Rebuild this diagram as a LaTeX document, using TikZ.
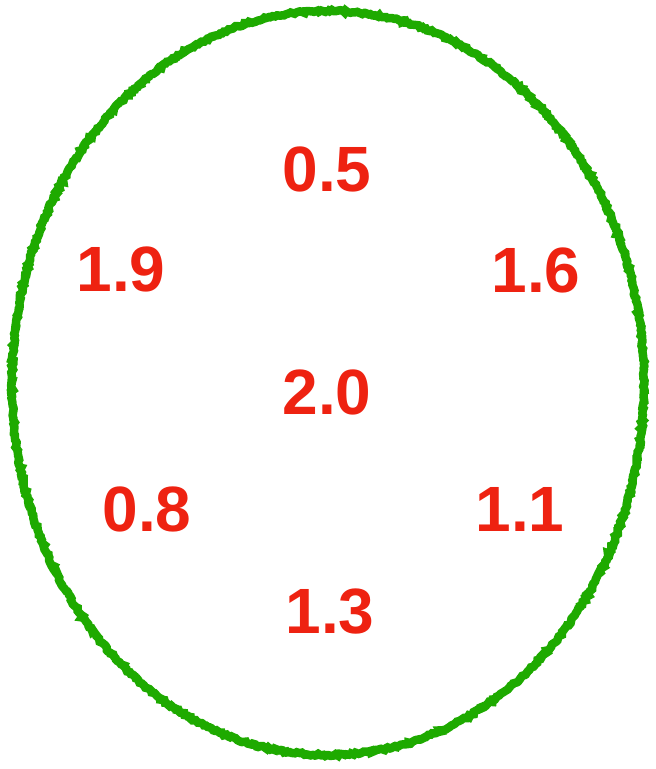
\documentclass[tikz,border=0pt]{standalone}
\usepackage{fontspec}
\setmainfont{Liberation Sans}
\usepackage{tikz}
\usetikzlibrary{decorations.pathmorphing}
\definecolor{ringgreen}{RGB}{30, 170, 0}
\definecolor{numred}{RGB}{238, 34, 17}

\begin{document}
\begin{tikzpicture}[
  x=1pt, y=-1pt,
  num/.style={text=numred, font=\fontsize{64}{64}\selectfont\bfseries, inner sep=0pt},
  ring/.style={draw=ringgreen, line width=8.5pt, decorate, decoration={random steps, segment length=2pt, amplitude=1.1pt}}
]
  \useasboundingbox (0,0) rectangle (656,769);

  % Rand
  \draw[ring] (328,383) ellipse [x radius=316, y radius=372];

  % Werte
  \node[num] (n05) at (327,169) {0.5};
  \node[num] (n19) at (121,269) {1.9};
  \node[num] (n16) at (536,270) {1.6};
  \node[num] (n20) at (327,392) {2.0};
  \node[num] (n08) at (147,509) {0.8};
  \node[num] (n11) at (520,509) {1.1};
  \node[num] (n13) at (330,612) {1.3};

\end{tikzpicture}
\end{document}
